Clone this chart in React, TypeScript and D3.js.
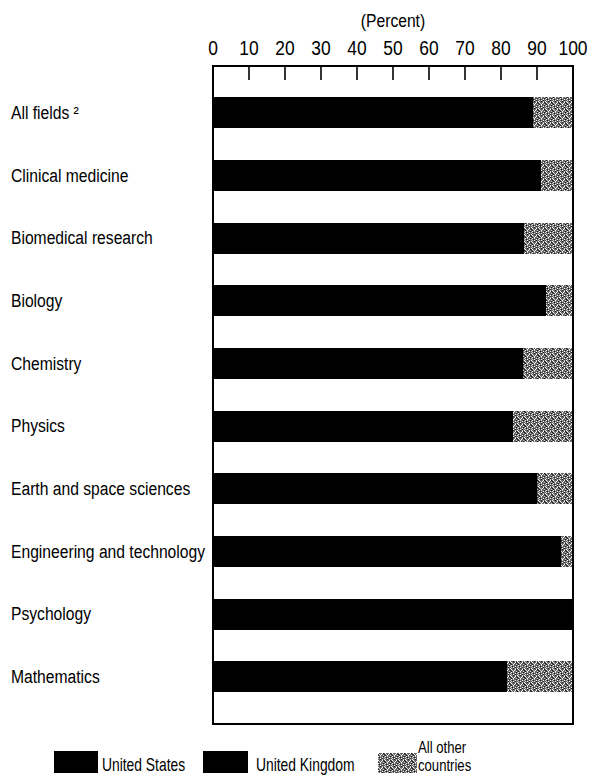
import React from "react";
import * as d3 from "d3";

const categories = [
  "All fields ²",
  "Clinical medicine",
  "Biomedical research",
  "Biology",
  "Chemistry",
  "Physics",
  "Earth and space sciences",
  "Engineering and technology",
  "Psychology",
  "Mathematics",
];
const unitedStates = [80, 82, 78, 84, 77, 74, 81, 88, 91, 73];
const unitedKingdom = [8.9, 9, 8.4, 8.5, 9, 9.4, 9, 8.7, 8.6, 8.6];
const allOther = [11.1, 9, 13.6, 7.5, 14, 16.6, 10, 3.3, 0.4, 18.4];
const ticks = [0, 10, 20, 30, 40, 50, 60, 70, 80, 90, 100];

const FONT = "'Liberation Sans', Arial, sans-serif";

function T({ x, y, size, sx = 0.87, anchor = "start", children }: any) {
  return (
    <text transform={`translate(${x},${y}) scale(${sx},1)`} fontSize={size} textAnchor={anchor}>
      {children}
    </text>
  );
}

// stipple cells (style only)
const stip = [
  "w.g..d.",
  ".d..w.g",
  "g.w.d..",
  "..d.g.w",
  "w...wd.",
  ".g.w..d",
  "d.w..g.",
];

export default function App() {
  const W = 589, H = 775;
  const left = 213, right = 573, top = 66, bottom = 724;
  const x = d3.scaleLinear().domain([0, 100]).range([left, right]);
  const y = d3.scaleBand().domain(categories).range([top, bottom]).paddingInner(0.5).paddingOuter(0.5);
  const bh = Math.round(y.bandwidth());
  const col: Record<string, string> = { w: "#fff", g: "#c8c8c8", d: "#1a1a1a", ".": "#666" };

  return (
    <svg width={W} height={H} style={{ position: "absolute", left: 0, top: 0, background: "#fff" }}
      fontFamily={FONT}>
      <defs>
        <pattern id="stip" width="7" height="7" patternUnits="userSpaceOnUse">
          {stip.map((row, r) =>
            row.split("").map((ch, c) => (
              <rect key={`${r}-${c}`} x={c} y={r} width={1} height={1} fill={col[ch]} />
            ))
          )}
        </pattern>
      </defs>
      <T x={(left + right) / 2} y={27} size={18} anchor="middle">(Percent)</T>
      {ticks.map((t) => (
        <g key={t}>
          <T x={x(t)} y={55} size={20} anchor="middle">{t}</T>
          {t > 0 && t < 100 && (
            <line x1={Math.round(x(t))} x2={Math.round(x(t))} y1={top} y2={top + 14} stroke="#000" strokeWidth={1.6} />
          )}
        </g>
      ))}
      <g shapeRendering="crispEdges">
        {categories.map((c, i) => {
          const y0 = Math.round(y(c)!);
          const us = unitedStates[i], uk = unitedKingdom[i], ot = allOther[i];
          const a = Math.round(x(0)), b = Math.round(x(us)), cc = Math.round(x(us + uk)), d = Math.round(x(us + uk + ot));
          return (
            <g key={c}>
              <rect x={a} y={y0} width={b - a + 1} height={bh} fill="#000" />
              <rect x={b} y={y0} width={cc - b} height={bh} fill="#000" />
              <rect x={cc} y={y0} width={d - cc} height={bh} fill="url(#stip)" />
            </g>
          );
        })}
      </g>
      {categories.map((c) => (
        <T key={c} x={11} y={y(c)! + y.bandwidth() / 2 + 6} size={18}>{c}</T>
      ))}
      <rect x={left} y={top} width={right - left} height={bottom - top} fill="none" stroke="#000" strokeWidth={2} />
      <g>
        <rect x={54} y={751} width={44} height={22} fill="#000" />
        <T x={102} y={771} size={18} sx={0.77}>United States</T>
        <rect x={203} y={751} width={45} height={22} fill="#000" />
        <T x={256} y={771} size={18} sx={0.77}>United Kingdom</T>
        <rect x={378} y={753} width={39} height={20} fill="url(#stip)" />
        <T x={418} y={753} size={16} sx={0.82}>All other</T>
        <T x={418} y={771} size={16} sx={0.82}>countries</T>
      </g>
    </svg>
  );
}
